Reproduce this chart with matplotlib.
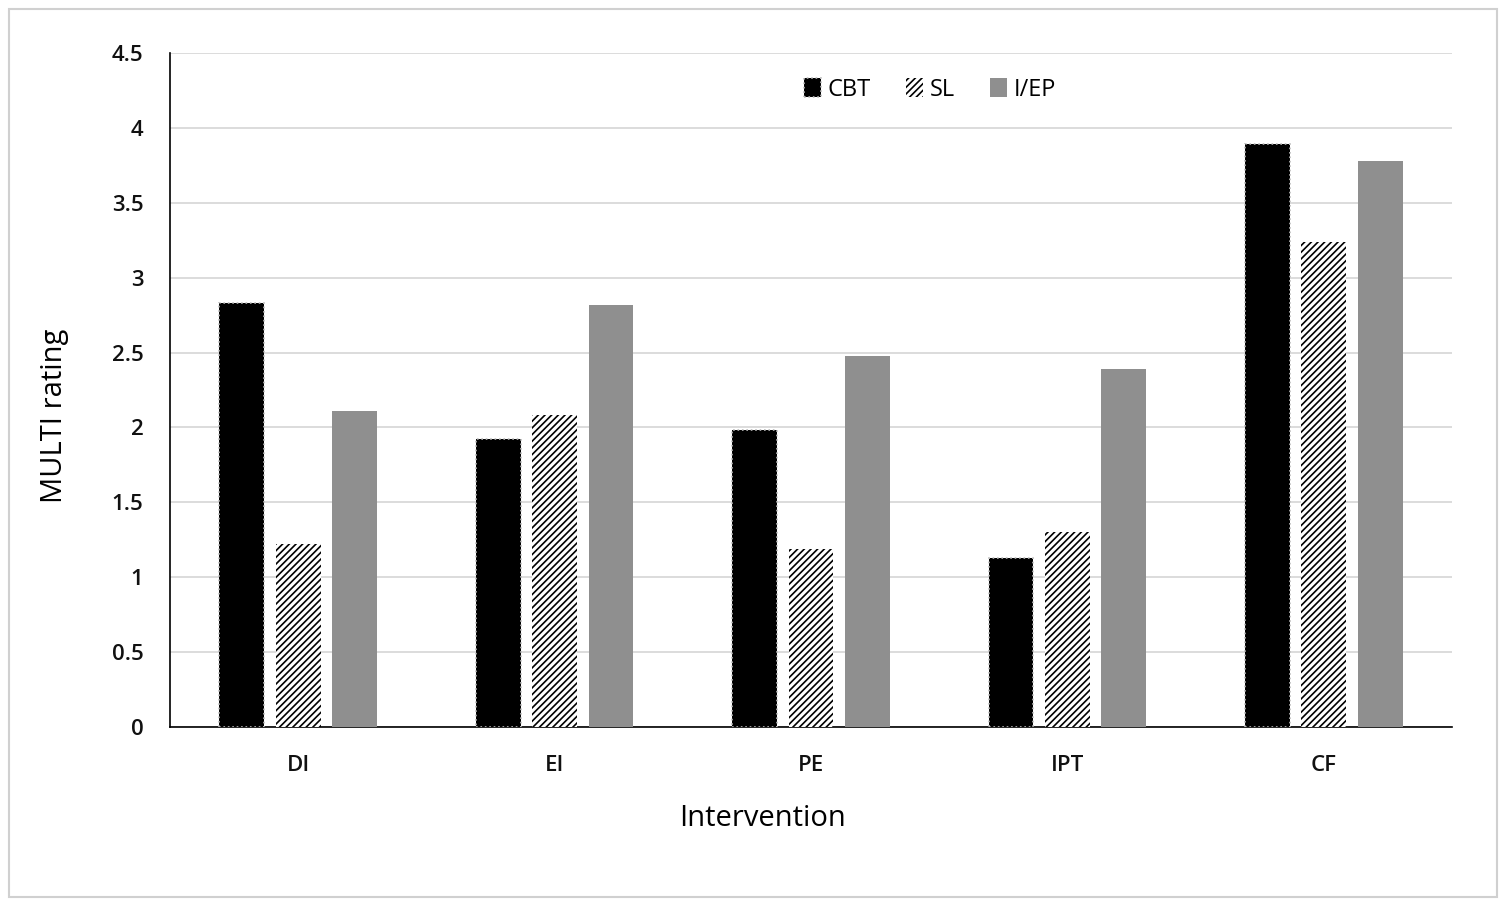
import numpy as np
import matplotlib.pyplot as plt
import matplotlib.patches as mpatches

categories = ['DI', 'EI', 'PE', 'IPT', 'CF']
cbt = [2.83, 1.92, 1.98, 1.13, 3.89]
sl = [1.22, 2.08, 1.19, 1.30, 3.24]
iep = [2.11, 2.82, 2.48, 2.39, 3.78]

plt.rcParams['font.family'] = ['Open Sans', 'DejaVu Sans']
plt.rcParams['hatch.linewidth'] = 1.2

fig = plt.figure(figsize=(15.1, 9.06), dpi=100)
# light gray frame around the whole chart
fig.patches.append(mpatches.Rectangle((9 / 1510, 9 / 906), 1488 / 1510, 888 / 906,
                                      transform=fig.transFigure, fill=False,
                                      edgecolor='#d0d0d0', linewidth=1.5))
ax = fig.add_axes([170 / 1510, 1 - 727 / 906, 1282 / 1510, 674 / 906])

x = np.arange(len(categories))
w = 0.175
step = 0.22
ax.bar(x - step, cbt, w, color='black', edgecolor='#bbbbbb', linestyle=':', linewidth=1.2, label='CBT', zorder=3)
ax.bar(x, sl, w, color='white', edgecolor='black', hatch='/////', linewidth=0, label='SL', zorder=3)
ax.bar(x + step, iep, w, color='#8f8f8f', linewidth=0, label='I/EP', zorder=3)

ax.set_xlim(-0.5, len(categories) - 0.5)
ax.set_ylim(0, 4.5)
ax.set_yticks(np.arange(0, 4.51, 0.5))
ax.set_yticklabels(['0', '0.5', '1', '1.5', '2', '2.5', '3', '3.5', '4', '4.5'])
ax.set_xticks(x)
ax.set_xticklabels(categories, fontweight='semibold')
for t in ax.get_yticklabels():
    t.set_fontweight('semibold')
ax.tick_params(axis='both', length=0, labelsize=16, colors='#111111')
ax.tick_params(axis='x', pad=20)
ax.tick_params(axis='y', pad=19)
ax.grid(axis='y', color='#d9d9d9', linewidth=1.3, zorder=0)
ax.set_axisbelow(True)
for s in ['top', 'right']:
    ax.spines[s].set_visible(False)
ax.spines['left'].set_linewidth(1.2)
ax.spines['bottom'].set_linewidth(1.2)

ax.set_ylabel('MULTI rating', fontsize=21)
ax.set_xlabel('Intervention', fontsize=21)
ax.yaxis.set_label_coords(-0.09, (727 - 416) / 674)
ax.xaxis.set_label_coords((762 - 170) / 1282, -(818 - 727) / 674)
ax.yaxis.label.set_va('center')
ax.xaxis.label.set_va('center')

ax.legend(loc='upper center', bbox_to_anchor=(0.593, 0.995), ncol=3, frameon=False,
          fontsize=17, handlelength=0.7, handleheight=0.9, handletextpad=0.3, columnspacing=1.5)

fig.savefig('out.png', dpi=100, facecolor='white')
